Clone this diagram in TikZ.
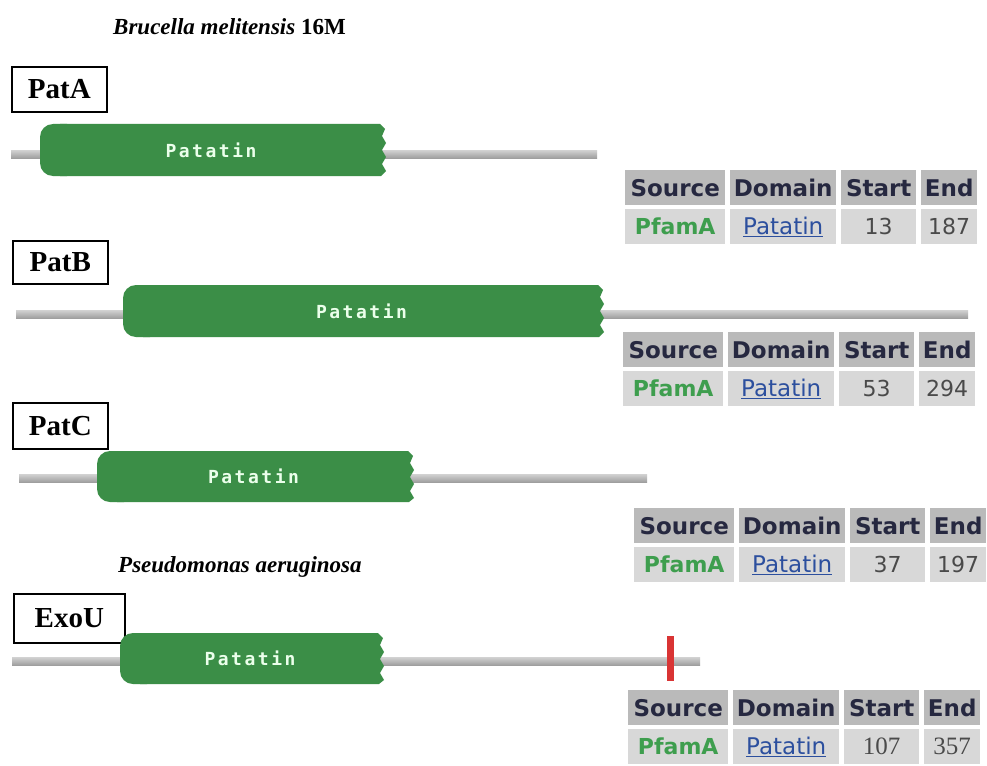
\documentclass[tikz,border=0pt]{standalone}
\usepackage{fontspec}
\setmainfont{Liberation Serif}
\newfontfamily\tabfont{DejaVu Sans}
\newfontfamily\domfont[LetterSpace=14]{DejaVu Sans Mono}
\definecolor{domgreen}{HTML}{3B8E47}
\definecolor{hdrgray}{HTML}{BABABA}
\definecolor{rowgray}{HTML}{D8D8D8}
\definecolor{hdrtext}{HTML}{262840}
\definecolor{pfgreen}{HTML}{3E9E4E}
\definecolor{linkblue}{HTML}{2C4F9E}
\definecolor{numgray}{HTML}{4A4A4A}
\definecolor{redmark}{HTML}{D93434}
\tikzset{
  protlabel/.style={draw=black, line width=1.6pt, font=\bfseries\fontsize{29}{29}\selectfont,
     inner sep=0pt, anchor=north west},
  organism/.style={font=\bfseries\itshape\fontsize{23}{23}\selectfont, anchor=west, inner sep=0pt},
  domtext/.style={font=\domfont\bfseries\fontsize{18}{18}\selectfont, text=white!92!green},
  hcell/.style={fill=hdrgray, anchor=north west, inner sep=0pt, minimum height=35pt,
     font=\tabfont\bfseries\fontsize{23}{23}\selectfont, text=hdrtext},
  rcell/.style={fill=rowgray, anchor=north west, inner sep=0pt, minimum height=35pt,
     font=\tabfont\fontsize{23}{23}\selectfont, text=numgray},
}
% backbone: #1 x1, #2 x2, #3 y
\newcommand\backbone[3]{%
  \shade[top color=gray!35, bottom color=gray!75] (#1,#3-4) rectangle (#2,#3+4);}
% domain: #1 name, #2 x1, #3 x2, #4 top, #5 bottom
\newcommand\domainbox[5]{%
  \fill[domgreen, rounded corners=13pt] (#2,#4) rectangle (#2+40,#5);
  \fill[domgreen] (#2+20,#4) -- (#3-2,#4) -- (#3+3,#4+5) -- (#3,#4+12) -- (#3+4,#4+19)
     -- (#3,#4+26) -- (#3+4,#4+33) -- (#3,#4+40) -- (#3+4,#4+47) -- (#3-1,#5) -- (#2+20,#5) -- cycle;
  \node[domtext] (#1) at ({(#2+#3)/2},{(#4+#5)/2}) {Patatin};}
% table: #1 prefix, #2 x, #3 y, #4 start, #5 end, #6 number font
\newcommand\pftable[6]{%
  \node[hcell, minimum width=100pt] (#1src) at (#2,#3) {Source};
  \node[hcell, minimum width=106pt] (#1dom) at (#2+105,#3) {Domain};
  \node[hcell, minimum width=75pt] (#1st) at (#2+216,#3) {Start};
  \node[hcell, minimum width=56pt] (#1en) at (#2+296,#3) {End};
  \node[rcell, minimum width=100pt, font=\tabfont\bfseries\fontsize{22}{22}\selectfont, text=pfgreen] (#1src2) at (#2,#3+39) {PfamA};
  \node[rcell, minimum width=106pt, text=linkblue] (#1dom2) at (#2+105,#3+39) {\underline{Patatin}};
  \node[rcell, minimum width=75pt, font=#6] (#1st2) at (#2+216,#3+39) {#4};
  \node[rcell, minimum width=56pt, font=#6] (#1en2) at (#2+296,#3+39) {#5};}
\begin{document}
\begin{tikzpicture}[x=1pt,y=-1pt]
\useasboundingbox[fill=white] (0,0) rectangle (987,765);

\node[organism] (org1) at (113,27) {Brucella melitensis \upshape 16M};

% PatA
\node[protlabel, minimum width=95pt, minimum height=45pt] (labA) at (11,66) {PatA};
\backbone{11}{597}{154}
\domainbox{domA}{40}{382}{124}{176}
\pftable{tA}{625}{170}{13}{187}{\tabfont\fontsize{22}{22}\selectfont}

% PatB
\node[protlabel, minimum width=95pt, minimum height=43pt] (labB) at (12,240) {PatB};
\backbone{16}{968}{314}
\domainbox{domB}{123}{600}{285}{337}
\pftable{tB}{623}{332}{53}{294}{\tabfont\fontsize{22}{22}\selectfont}

% PatC
\node[protlabel, minimum width=95pt, minimum height=46pt] (labC) at (12,402) {PatC};
\backbone{19}{647}{478}
\domainbox{domC}{97}{410}{451}{502}
\pftable{tC}{634}{508}{37}{197}{\tabfont\fontsize{22}{22}\selectfont}

% ExoU
\node[organism] (org2) at (118,567) {Pseudomonas aeruginosa};
\node[protlabel, minimum width=111pt, minimum height=49pt] (labE) at (13,593) {ExoU};
\backbone{12}{700}{661}
\domainbox{domE}{120}{380}{633}{684}
\fill[redmark] (667,636) rectangle (674,681);
\pftable{tE}{628}{690}{107}{357}{\rmfamily\fontsize{25}{25}\selectfont}
\end{tikzpicture}
\end{document}
